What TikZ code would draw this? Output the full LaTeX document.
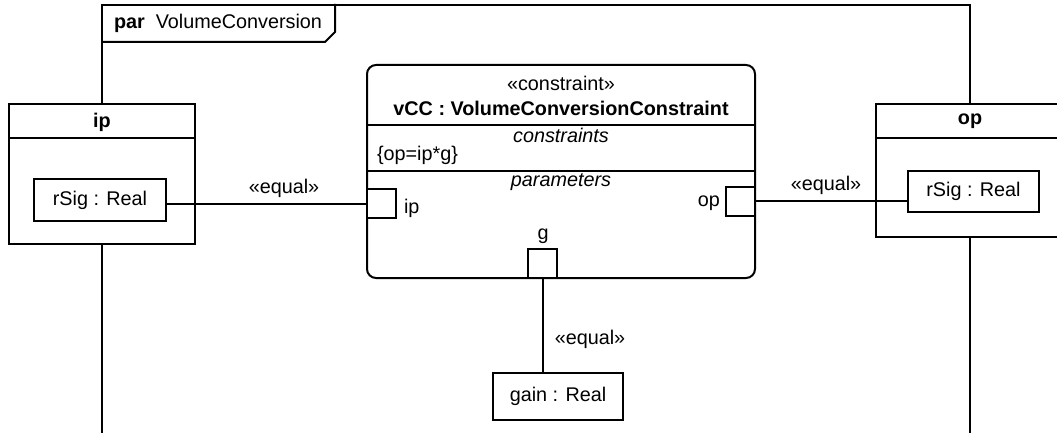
\documentclass[tikz,border=0pt]{standalone}
\usepackage{fontspec}
\setmainfont{Liberation Sans}
\begin{document}
\begin{tikzpicture}[x=1pt,y=-1pt,
  every node/.style={inner sep=0pt, outer sep=0pt, font=\fontsize{19.8}{23}\selectfont},
  ln/.style={line width=2pt, line cap=rect},
  box/.style={draw, line width=2pt, fill=white},
  port/.style={draw, line width=2pt, fill=white, minimum width=29pt, minimum height=29pt},
  lbl/.style={anchor=center}]
\useasboundingbox (0,0) rectangle (1057,433);
\clip (0,0) rectangle (1057,433);
% frame
\coordinate (f1) at (102,440);
\coordinate (f2) at (102,5);
\coordinate (f3) at (970,5);
\coordinate (f4) at (970,440);
\draw[ln] (f1) -- (f2) -- (f3) -- (f4);
\coordinate (t1) at (102,42);
\coordinate (t2) at (325,42);
\coordinate (t3) at (335,32);
\coordinate (t4) at (335,5);
\draw[ln] (t1) -- (t2) -- (t3) -- (t4);
\node[anchor=west] (title) at (114,23) {\textbf{par}\ \ VolumeConversion};
% ip part
\node[box, minimum width=186pt, minimum height=140pt] (ipb) at (102,174) {};
\draw[ln] (ipb.west |- 0,138) -- (ipb.east |- 0,138);
\node (iph) at (102,122) {\textbf{ip}};
\node[box, minimum width=132pt, minimum height=42pt] (rs1) at (100,200) {rSig : Real};
% op part
\node[box, minimum width=200pt, minimum height=133pt, anchor=north west] (opb) at (876,104) {};
\draw[ln] (876,138) -- (1070,138);
\node (oph) at (970,121) {\textbf{op}};
\node[box, minimum width=131pt, minimum height=41pt] (rs2) at (973.5,191.5) {rSig : Real};
% constraint block
\node[draw, line width=2pt, fill=white, rounded corners=9pt, minimum width=388pt, minimum height=213pt, anchor=north west] (vcc) at (367,65) {};
\node (st) at (561,83) {«constraint»};
\node (nm) at (561,108) {\textbf{vCC : VolumeConversionConstraint}};
\draw[ln] (vcc.west |- 0,125) -- (vcc.east |- 0,125);
\node (cs) at (561,135) {\itshape constraints};
\node[anchor=west] (cx) at (377,155) {\{op=ip*g\}};
\draw[ln] (vcc.west |- 0,171) -- (vcc.east |- 0,171);
\node (ps) at (561,182) {\itshape parameters};
% ports
\node[port, anchor=west] (pip) at (367,203.5) {};
\node[anchor=west] (lip) at (404,208) {ip};
\node[port, anchor=east] (pop) at (755,201) {};
\node[anchor=east] (lop) at (720,203) {op};
\node[port, anchor=south] (pg) at (542.5,278) {};
\node (lg) at (543,236) {g};
% gain
\node[box, minimum width=130pt, minimum height=47pt] (gain) at (558,396.5) {gain : Real};
% connectors
\draw[ln] (pip.west) -- (pip.west -| rs1.east);
\draw[ln] (pop.east) -- (pop.east -| rs2.west);
\draw[ln] (pg.south) -- (pg.south |- gain.north);
\node (e1) at (284,188) {«equal»};
\node (e2) at (826,185) {«equal»};
\node (e3) at (590,339) {«equal»};
\end{tikzpicture}
\end{document}
